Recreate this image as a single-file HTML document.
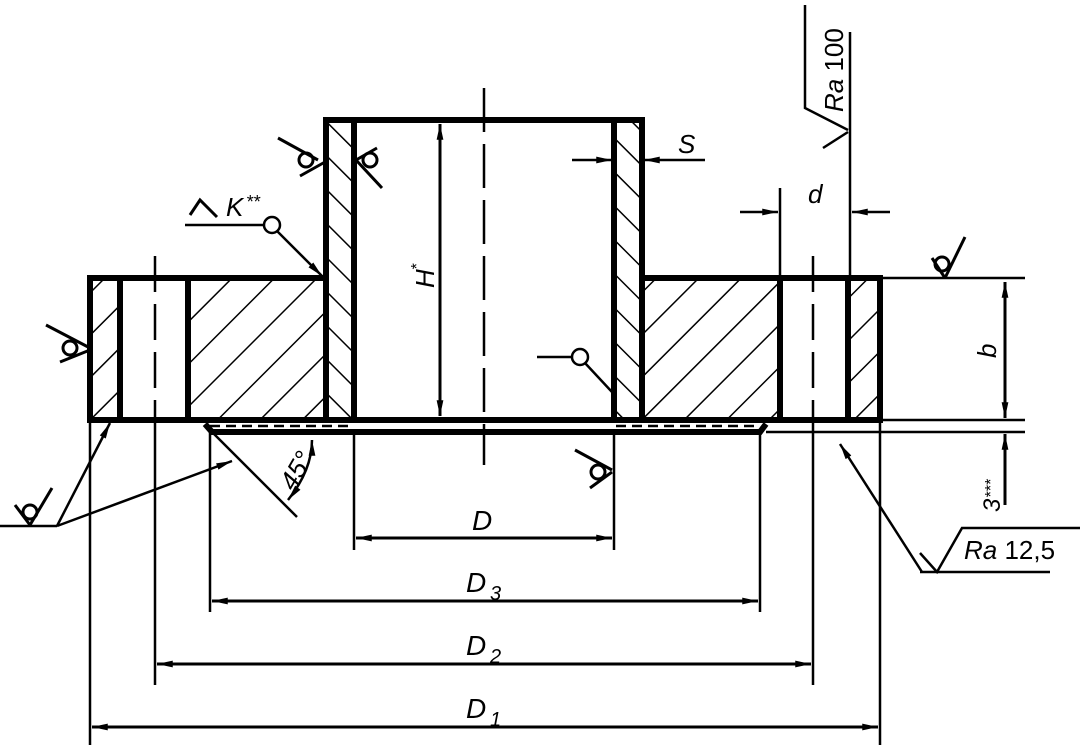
<!DOCTYPE html>
<html><head><meta charset="utf-8"><style>
html,body{margin:0;padding:0;background:#fff}
svg{display:block}
text{font-family:"Liberation Sans",sans-serif;font-style:italic;fill:#000}
</style></head><body>
<svg width="1084" height="750" viewBox="0 0 1084 750" xmlns="http://www.w3.org/2000/svg">
<defs>
<pattern id="h1" patternUnits="userSpaceOnUse" width="30" height="30" patternTransform="rotate(45)">
<line x1="0" y1="0" x2="0" y2="30" stroke="#000" stroke-width="3"/></pattern>
<pattern id="h2" patternUnits="userSpaceOnUse" width="24" height="24" patternTransform="rotate(-45)">
<line x1="0" y1="0" x2="0" y2="24" stroke="#000" stroke-width="3"/></pattern>
<marker id="a" viewBox="0 0 14 8" refX="14" refY="4" markerWidth="16" markerHeight="9" markerUnits="userSpaceOnUse" orient="auto-start-reverse"><path d="M0,1 L14,4 L0,7 z" fill="#000"/></marker>
</defs>

<rect x="93" y="281" width="27" height="138" fill="url(#h1)"/>
<rect x="188" y="281" width="138" height="138" fill="url(#h1)"/>
<rect x="642" y="281" width="138" height="138" fill="url(#h1)"/>
<rect x="848" y="281" width="30" height="138" fill="url(#h1)"/>
<rect x="328" y="121" width="26" height="298" fill="url(#h2)"/>
<rect x="614" y="121" width="26" height="298" fill="url(#h2)"/>
<line x1="210" y1="426" x2="352" y2="426" stroke="#000" stroke-width="2.5" stroke-dasharray="10,6"/>
<line x1="616" y1="426" x2="758" y2="426" stroke="#000" stroke-width="2.5" stroke-dasharray="10,6"/>

<g stroke="#000" fill="none">
<g stroke-width="6">
<rect x="326" y="120" width="28" height="300"/>
<rect x="614" y="120" width="28" height="300"/>
<line x1="326" y1="120" x2="642" y2="120"/>
<polyline points="326,278 90,278 90,420 354,420"/>
<polyline points="642,278 880,278 880,420 614,420"/>
<line x1="120" y1="278" x2="120" y2="420"/>
<line x1="188" y1="278" x2="188" y2="420"/>
<line x1="780" y1="278" x2="780" y2="420"/>
<line x1="848" y1="278" x2="848" y2="420"/>
<line x1="354" y1="420" x2="614" y2="420"/>
<polyline points="205,424 212,432 760,432 766,424"/>
</g>
<g stroke-width="2.5" stroke-dasharray="44,12">
<line x1="484" y1="88" x2="484" y2="465"/>
</g>
<g stroke-width="2.5" stroke-dasharray="36,12">
<line x1="155" y1="256" x2="155" y2="432"/>
<line x1="813" y1="256" x2="813" y2="432"/>
</g>
<g stroke-width="2.5">
<line x1="155" y1="432" x2="155" y2="685"/>
<line x1="813" y1="432" x2="813" y2="685"/>
<line x1="880" y1="278" x2="1025" y2="278"/>
<line x1="880" y1="420" x2="1025" y2="420"/>
<line x1="766" y1="432" x2="1025" y2="432"/>
<line x1="90" y1="420" x2="90" y2="745"/>
<line x1="880" y1="420" x2="880" y2="745"/>
<line x1="210" y1="432" x2="210" y2="612"/>
<line x1="760" y1="432" x2="760" y2="612"/>
<line x1="354" y1="432" x2="354" y2="550"/>
<line x1="614" y1="432" x2="614" y2="550"/>
<line x1="780" y1="278" x2="780" y2="188"/>
<line x1="850" y1="278" x2="850" y2="32"/>
<line x1="356" y1="538" x2="612" y2="538" marker-start="url(#a)" marker-end="url(#a)" stroke-width="3"/>
<line x1="212" y1="601" x2="758" y2="601" marker-start="url(#a)" marker-end="url(#a)" stroke-width="3"/>
<line x1="157" y1="664" x2="811" y2="664" marker-start="url(#a)" marker-end="url(#a)" stroke-width="3"/>
<line x1="92" y1="727" x2="878" y2="727" marker-start="url(#a)" marker-end="url(#a)" stroke-width="3"/>
<line x1="440" y1="124" x2="440" y2="416" marker-start="url(#a)" marker-end="url(#a)" stroke-width="3"/>
<line x1="1005" y1="282" x2="1005" y2="418" marker-start="url(#a)" marker-end="url(#a)" stroke-width="3"/>
<line x1="1005" y1="505" x2="1005" y2="434" marker-end="url(#a)" stroke-width="3"/>
<line x1="572" y1="160" x2="612" y2="160" marker-end="url(#a)"/>
<line x1="705" y1="160" x2="644" y2="160" marker-end="url(#a)"/>
<line x1="740" y1="212" x2="778" y2="212" marker-end="url(#a)"/>
<line x1="890" y1="212" x2="852" y2="212" marker-end="url(#a)"/>
<polyline points="805,5 805,108 848,130"/>
<line x1="823" y1="148" x2="848" y2="132"/>
<line x1="922" y1="572" x2="840" y2="444" marker-end="url(#a)"/>
<polyline points="920,572 1050,572"/>
<polyline points="920,553 937,572 962,528 1080,528"/>
<line x1="205" y1="425" x2="297" y2="517"/>
<path d="M312,440 Q312,470 288,500" marker-start="url(#a)" marker-end="url(#a)"/>
<line x1="0" y1="526" x2="57" y2="526"/>
<line x1="57" y1="526" x2="110" y2="423" marker-end="url(#a)"/>
<line x1="57" y1="526" x2="232" y2="461" marker-end="url(#a)"/>
<line x1="185" y1="225" x2="264" y2="225"/>
<circle cx="272" cy="225" r="8"/>
<line x1="277" y1="231" x2="322" y2="276" marker-end="url(#a)"/>
<polyline points="190,215 200,200 217,217" stroke-width="3"/>
<line x1="537" y1="357" x2="572" y2="357"/>
<circle cx="580" cy="357" r="8"/>
<line x1="585" y1="363" x2="612" y2="392"/>
<g stroke-width="3">
<line x1="278" y1="138" x2="318" y2="160"/><circle cx="306" cy="160" r="7"/><line x1="300" y1="176" x2="325" y2="162"/>
<line x1="382" y1="188" x2="356" y2="160"/><circle cx="370" cy="160" r="7"/><line x1="356" y1="160" x2="377" y2="148"/>
<line x1="46" y1="325" x2="90" y2="348"/><circle cx="70" cy="348" r="7"/><line x1="60" y1="362" x2="90" y2="350"/>
<line x1="15" y1="505" x2="30" y2="525"/><circle cx="30" cy="512" r="7"/><line x1="30" y1="525" x2="52" y2="488"/>
<line x1="575" y1="450" x2="612" y2="470"/><circle cx="598" cy="472" r="7"/><line x1="590" y1="488" x2="612" y2="472"/>
<line x1="932" y1="258" x2="945" y2="278"/><circle cx="942" cy="264" r="7"/><line x1="945" y1="278" x2="965" y2="237"/>
</g>
</g>
</g>

<text x="472" y="530" font-size="28">D</text>
<text x="466" y="592" font-size="28">D</text><text x="490" y="600" font-size="20" font-style="normal">3</text>
<text x="466" y="655" font-size="28">D</text><text x="490" y="663" font-size="20" font-style="normal">2</text>
<text x="466" y="718" font-size="28">D</text><text x="490" y="726" font-size="20" font-style="normal">1</text>
<text x="678" y="153" font-size="26">S</text>
<text x="808" y="203" font-size="26">d</text>
<text x="226" y="216" font-size="26">K</text><text x="246" y="208" font-size="18" font-style="normal">**</text>
<text transform="translate(434,288) rotate(-90)" font-size="26">H</text>
<text transform="translate(422,270) rotate(-90)" font-size="16" font-style="normal">*</text>
<text transform="translate(996,358) rotate(-90)" font-size="26">b</text>
<text transform="translate(1000,512) rotate(-90)" font-size="24" font-style="normal">3</text>
<text transform="translate(996,498) rotate(-90)" font-size="16" font-style="normal">***</text>
<text transform="translate(843,112) rotate(-90)" font-size="26"><tspan>Ra</tspan><tspan font-style="normal"> 100</tspan></text>
<text x="964" y="559" font-size="26"><tspan>Ra</tspan><tspan font-style="normal"> 12,5</tspan></text>
<text transform="translate(294,492) rotate(-60)" font-size="26" font-style="normal">45°</text>
</svg>
</body></html>
